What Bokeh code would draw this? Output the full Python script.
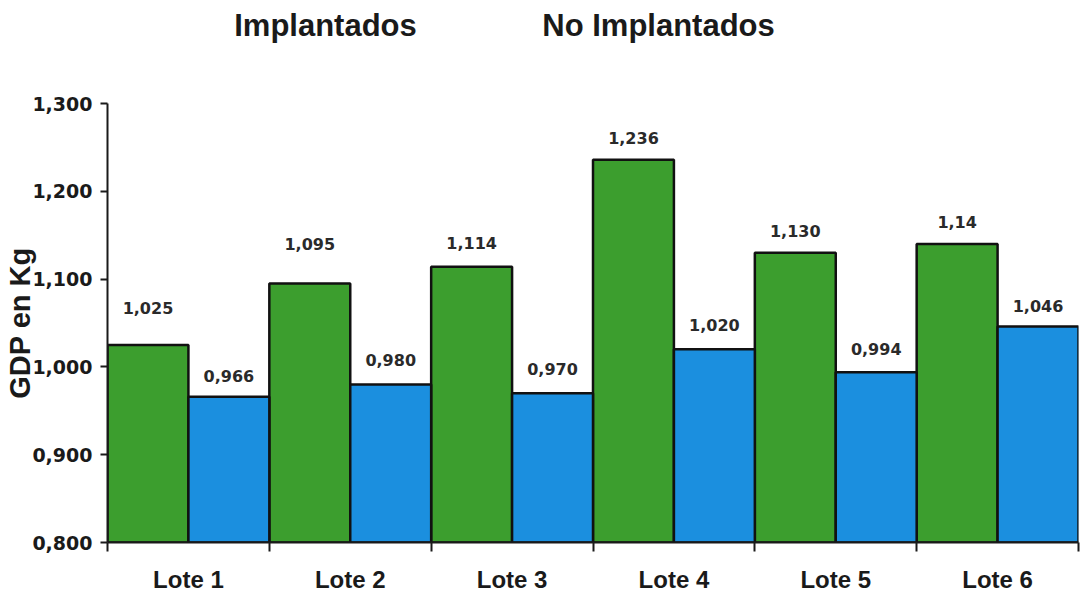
from bokeh.plotting import figure
from bokeh.layouts import column
from bokeh.models import ColumnDataSource, FixedTicker, CustomJSTickFormatter
from bokeh.core.properties import value
from bokeh.embed import file_html
from bokeh.resources import INLINE

# ---- data ----
lotes = ["Lote 1", "Lote 2", "Lote 3", "Lote 4", "Lote 5", "Lote 6"]
series_names = ["Implantados", "No Implantados"]
implantados = [1.025, 1.095, 1.114, 1.236, 1.130, 1.14]
no_implantados = [0.966, 0.980, 0.970, 1.020, 0.994, 1.046]
labels_impl = ["1,025", "1,095", "1,114", "1,236", "1,130", "1,14"]
labels_no = ["0,966", "0,980", "0,970", "1,020", "0,994", "1,046"]
y_ticks = [0.8, 0.9, 1.0, 1.1, 1.2, 1.3]
y_title = "GDP en Kg"

# ---- styling / layout ----
GREEN = "#3c9e2e"
BLUE = "#1b8fdf"
INK = "#1a1a1a"
lift_impl = [37, 39, 24, 22, 22, 22]
lift_no = [21, 24, 24, 24, 23, 21]
header_x = [1.347, 3.405]      # centres of the two header texts (category units)
HEADER_H = 93

n = len(lotes)
x_impl = [i + 0.25 for i in range(n)]
x_no = [i + 0.75 for i in range(n)]

src_i = ColumnDataSource(dict(x=x_impl, top=implantados, lab=labels_impl,
                              off=[-v for v in lift_impl]))
src_n = ColumnDataSource(dict(x=x_no, top=no_implantados, lab=labels_no,
                              off=[-v for v in lift_no]))

p = figure(width=1081, height=598 - HEADER_H, x_range=(0, n), y_range=(0.8, 1.3),
           output_backend="svg", toolbar_location=None,
           min_border_left=107, min_border_right=3,
           min_border_top=10, min_border_bottom=56)
p.outline_line_color = None
p.grid.visible = False

# header with the two series names
h = figure(width=1081, height=HEADER_H, x_range=p.x_range, y_range=(0, HEADER_H),
           output_backend="svg", toolbar_location=None,
           x_axis_type=None, y_axis_type=None,
           min_border_left=107, min_border_right=3,
           min_border_top=0, min_border_bottom=0)
h.outline_line_color = None
h.grid.visible = False
h.text(x=header_x, y=[HEADER_H - 25] * len(series_names), text=series_names,
       text_align="center", text_baseline="middle",
       text_font=value("Liberation Sans"), text_font_style="bold",
       text_font_size="31px", text_color=INK)

for src, col in ((src_i, GREEN), (src_n, BLUE)):
    p.vbar(x="x", top="top", bottom=0.8, width=0.5, source=src,
           fill_color=col, line_color="#111111", line_width=2.5)
    p.text(x="x", y="top", text="lab", source=src, y_offset="off",
           text_align="center", text_baseline="middle",
           text_font=value("DejaVu Sans"), text_font_style="bold",
           text_font_size="16px", text_color="#2a2a2a")

# x axis
xa = p.xaxis[0]
xa.ticker = FixedTicker(ticks=[i + 0.5 for i in range(n)],
                        minor_ticks=list(range(n + 1)))
xa.major_label_overrides = {i + 0.5: lab for i, lab in enumerate(lotes)}
xa.major_tick_line_color = None
xa.major_tick_out = 0
xa.major_tick_in = 0
xa.minor_tick_in = 0
xa.minor_tick_out = 9
xa.minor_tick_line_width = 2
xa.minor_tick_line_color = INK
xa.axis_line_width = 2
xa.axis_line_color = INK
xa.major_label_standoff = 14
xa.major_label_text_font = "Liberation Sans"
xa.major_label_text_font_style = "bold"
xa.major_label_text_font_size = "24px"
xa.major_label_text_color = INK

# y axis
ya = p.yaxis[0]
ya.ticker = FixedTicker(ticks=y_ticks, minor_ticks=[])
ya.formatter = CustomJSTickFormatter(code="return tick.toFixed(3).replace('.', ',');")
ya.major_tick_in = 0
ya.major_tick_out = 7
ya.major_tick_line_width = 2
ya.major_tick_line_color = INK
ya.axis_line_width = 2
ya.axis_line_color = INK
ya.major_label_standoff = 8
ya.major_label_text_font = "DejaVu Sans"
ya.major_label_text_font_style = "bold"
ya.major_label_text_font_size = "19px"
ya.major_label_text_color = INK
ya.axis_label = y_title
ya.axis_label_text_font = "Liberation Sans"
ya.axis_label_text_font_style = "bold"
ya.axis_label_text_font_size = "29px"
ya.axis_label_text_color = INK
ya.axis_label_standoff = -7

layout = column(h, p, spacing=0)
open("out.html", "w").write(file_html(layout, INLINE))
